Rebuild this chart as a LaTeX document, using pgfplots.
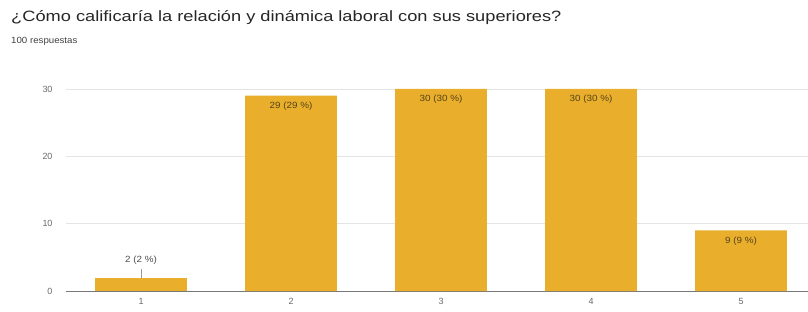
\documentclass[border=0pt]{standalone}
\usepackage{fontspec}
\setmainfont{Liberation Sans}
\usepackage{pgfplots}
\pgfplotsset{compat=1.18}
\definecolor{bargold}{RGB}{233,174,44}
\definecolor{gridc}{RGB}{228,228,228}
\definecolor{tickc}{RGB}{105,105,105}
\definecolor{lblc}{RGB}{85,68,25}
\begin{document}
\begin{tikzpicture}[x=1bp,y=1bp]
\path[use as bounding box] (0,0) rectangle (808,311);
\node[anchor=base west,font=\fontsize{15}{16}\selectfont,text=black!85,inner sep=0,xscale=1.22] at (11,290) {¿Cómo calificaría la relación y dinámica laboral con sus superiores?};
\node[anchor=base west,font=\fontsize{9}{10}\selectfont,text=black!75,inner sep=0,xscale=1.08] at (11,268) {100 respuestas};
\begin{axis}[
  at={(66bp,20bp)}, anchor=south west,
  scale only axis, width=742.5bp, height=205.4bp,
  xmin=0.5, xmax=5.45, ymin=0, ymax=30.5,
  axis x line*=bottom, axis y line*=left,
  y axis line style={draw=none},
  x axis line style={-, draw=tickc!90},
  xtick={1,2,3,4,5}, ytick={0,10,20,30},
  ymajorgrids, grid style={draw=gridc},
  major tick length=0pt,
  tick label style={font=\fontsize{9}{10}\selectfont, text=tickc},
  xticklabel style={yshift=-4bp},
  yticklabel style={xshift=-10bp},
  /pgf/number format/assume math mode=true,
  clip=false,
]
\addplot[ybar, bar width=0.613, fill=bargold, draw=none,
  nodes near coords={\pgfmathprintnumber{\pgfplotspointmeta} (\pgfmathprintnumber{\pgfplotspointmeta} \%)},
  every node near coord/.append style={anchor=north, yshift=-3bp, font=\fontsize{9}{10}\selectfont, text=lblc, xscale=1.1}]
  coordinates {(2,29) (3,30) (4,30) (5,9)};
\addplot[ybar, bar width=0.613, fill=bargold, draw=none,
  nodes near coords={\pgfmathprintnumber{\pgfplotspointmeta} (\pgfmathprintnumber{\pgfplotspointmeta} \%)},
  every node near coord/.append style={anchor=south, yshift=10bp, font=\fontsize{9}{10}\selectfont, text=black!70, xscale=1.1}]
  coordinates {(1,2)};
\draw[black!40] (axis cs:1,2) -- (axis cs:1,3.3);
\end{axis}
\end{tikzpicture}
\end{document}
